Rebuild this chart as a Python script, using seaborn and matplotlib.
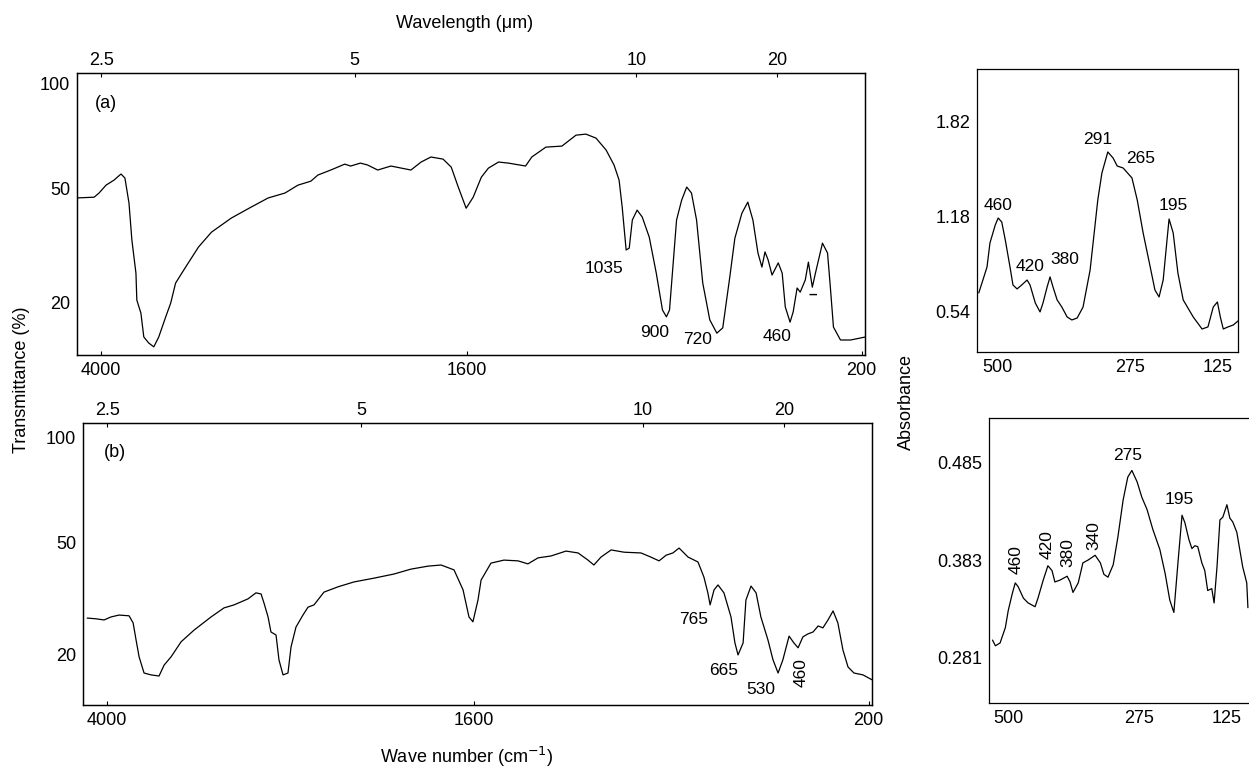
import numpy as np
import pandas as pd
import matplotlib
matplotlib.use("Agg")
import matplotlib.pyplot as plt
import seaborn as sns

# ---------------- data ----------------
# Panel (a): IR transmittance spectrum
wn_a = [4196, 4055, 4016, 3961, 3898, 3843, 3812, 3780, 3757, 3725, 3718, 3686, 3663, 3624,
        3584, 3545, 3490, 3451, 3412, 3333, 3231, 3129, 2973, 2816, 2682, 2549, 2447, 2345,
        2290, 2188, 2078, 2031, 1979, 1954, 1918, 1871, 1800, 1764, 1729, 1686, 1657, 1632,
        1604, 1579, 1550, 1525, 1489, 1454, 1393, 1371, 1321, 1264, 1214, 1179, 1143, 1107,
        1079, 1061, 1050, 1036, 1025, 1014, 997, 979, 954, 929, 907, 893, 882, 857, 839, 821,
        804, 786, 764, 739, 714, 693, 668, 650, 625, 604, 586, 568, 554, 543, 532, 518, 496,
        482, 471, 454, 443, 429, 418, 400, 389, 375, 364, 339, 321, 311, 300, 275, 239, 186]
T_a = [47.4, 47.6, 48.7, 51.4, 53.8, 56.7, 54.8, 46.1, 36.3, 27.6, 20.5, 17.1, 10.8, 9.2,
       8.2, 10.8, 16.1, 19.7, 25.0, 29.2, 34.5, 38.4, 42.1, 45.0, 47.4, 48.7, 51.4, 53.3,
       56.2, 58.6, 61.4, 60.5, 61.9, 61.0, 58.6, 60.5, 58.6, 62.4, 64.8, 63.8, 60.0, 50.5,
       44.7, 47.6, 55.2, 59.5, 62.4, 61.9, 60.5, 64.8, 69.5, 70.0, 75.2, 75.7, 73.8, 68.1,
       61.0, 53.8, 45.0, 33.7, 34.2, 41.6, 44.2, 42.4, 37.1, 27.6, 17.9, 16.1, 17.9, 41.6, 46.8, 50.5,
       48.7, 41.6, 25.0, 15.3, 11.8, 13.2, 26.6, 36.8, 43.4, 46.3, 41.6, 32.9, 29.2, 33.2, 31.1, 27.1, 30.3,
       27.6, 18.7, 14.7, 17.4, 23.7, 22.6, 25.8, 30.5, 23.9, 27.6, 35.5, 32.9, 23.9, 13.4, 10.0, 10.0, 10.8]

# Panel (b): IR transmittance spectrum
wn_b = [4157, 4087, 4024, 3969, 3906, 3827, 3795, 3772, 3748, 3709, 3654, 3591, 3551, 3496,
        3417, 3315, 3181, 3079, 3000, 2890, 2827, 2787, 2764, 2732, 2709, 2669, 2646, 2614,
        2575, 2551, 2512, 2457, 2417, 2370, 2291, 2181, 2055, 1954, 1883, 1823, 1762, 1716,
        1670, 1638, 1617, 1603, 1585, 1574, 1539, 1493, 1443, 1408, 1372, 1326, 1273, 1230,
        1195, 1174, 1149, 1113, 1067, 1007, 972, 943, 918, 894, 872, 840, 805, 784, 770, 762,
        748, 734, 713, 688, 674, 663, 645, 635, 617, 599, 582, 557, 539, 521, 504, 482, 465,
        450, 433, 415, 397, 379, 362, 344, 326, 309, 291, 273, 252, 220, 188]
T_b = [29.8, 29.6, 29.3, 30.1, 30.6, 30.4, 28.5, 24.0, 19.5, 15.2, 14.7, 14.4, 17.3, 19.5,
       23.5, 26.6, 30.1, 32.5, 33.3, 34.9, 36.5, 36.2, 33.8, 30.1, 26.1, 25.3, 18.7, 14.7,
       15.2, 22.1, 27.4, 30.6, 32.7, 33.3, 36.7, 38.1, 39.4, 40.4, 41.5, 42.8, 43.6, 43.9,
       42.6, 37.3, 30.1, 28.8, 34.6, 39.9, 44.4, 45.2, 45.0, 44.2, 45.8, 46.3, 47.6, 47.1,
       45.2, 43.9, 46.0, 47.9, 47.3, 47.1, 46.0, 45.0, 46.5, 47.1, 48.4, 46.0, 44.7, 40.7, 36.5, 33.3,
       37.3, 38.6, 36.5, 30.1, 23.2, 20.0, 23.2, 34.6, 38.3, 36.5, 30.1, 24.0, 18.7, 15.2, 18.7, 25.0, 23.2,
       21.9, 24.8, 25.6, 26.1, 27.7, 27.2, 29.3, 31.7, 28.5, 21.3, 16.8, 15.2, 14.7, 13.4]

# Far-IR absorbance (top right)
wn_c = [531, 524, 517, 512, 503, 498, 492, 486, 478, 473, 466, 458, 449, 444, 435, 427, 422,
        415, 410, 405, 398, 390, 381, 373, 364, 354, 342, 334, 329, 322, 312, 303, 296, 286,
        271, 262, 252, 240, 232, 225, 218, 211, 208, 201, 193, 184, 167, 152, 142, 133, 126,
        121, 116, 108, 99, 91]
A_c = [0.668, 0.755, 0.843, 1.005, 1.126, 1.173, 1.146, 1.025, 0.843, 0.722, 0.695, 0.722,
       0.755, 0.722, 0.600, 0.540, 0.600, 0.708, 0.776, 0.708, 0.621, 0.573, 0.506, 0.486,
       0.499, 0.573, 0.823, 1.112, 1.294, 1.476, 1.618, 1.577, 1.523, 1.510, 1.443, 1.294,
       1.072, 0.843, 0.688, 0.641, 0.755, 1.045, 1.166, 1.072, 0.802, 0.621, 0.506, 0.425,
       0.439, 0.573, 0.607, 0.506, 0.425, 0.439, 0.452, 0.479]

# Far-IR absorbance (bottom right)
wn_d = [527, 522, 514, 505, 500, 493, 488, 483, 474, 466, 454, 449, 440, 432, 425, 420, 411,
        399, 394, 389, 380, 372, 363, 351, 342, 336, 329, 320, 312, 303, 295, 288, 279, 271,
        262, 252, 240, 231, 223, 216, 209, 202, 197, 190, 185, 180, 175, 168, 163, 158, 151,
        147, 142, 137, 132, 125, 120, 115, 108, 103, 98, 91, 89]
A_d = [0.299, 0.293, 0.296, 0.312, 0.330, 0.348, 0.359, 0.355, 0.343, 0.338, 0.334, 0.343,
       0.362, 0.377, 0.372, 0.360, 0.362, 0.366, 0.360, 0.349, 0.359, 0.380, 0.383, 0.388,
       0.380, 0.368, 0.365, 0.378, 0.407, 0.446, 0.470, 0.477, 0.465, 0.449, 0.436, 0.415,
       0.394, 0.369, 0.341, 0.328, 0.380, 0.430, 0.422, 0.404, 0.395, 0.398, 0.397, 0.380,
       0.372, 0.351, 0.353, 0.338, 0.376, 0.425, 0.428, 0.441, 0.427, 0.423, 0.412, 0.394,
       0.376, 0.359, 0.333]

# tick values / labels
wn_ticks = [4000, 1600, 200]
um_ticks_pos = [4000, 2000, 1000, 500]
um_ticks_lab = ["2.5", "5", "10", "20"]
T_ticks = [100, 50, 20]
A_ticks_c = [1.82, 1.18, 0.54]
A_ticks_d = [0.485, 0.383, 0.281]
far_ticks = [500, 275, 125]

# peak labels
peaks_a = [("1035", 1114, 28.9, 0), ("900", 936, 12.1, 0), ("720", 782, 10.0, 0), ("460", 500, 10.8, 0)]
peaks_b = [("765", 819, 29.3, 0), ("665", 713, 16.0, 0), ("530", 582, 10.7, 0), ("460", 440, 15.2, 90)]
peaks_c = [("460", 498, 1.26, 0), ("420", 444, 0.843, 0), ("380", 385, 0.89, 0),
           ("291", 330, 1.705, 0), ("265", 257, 1.577, 0), ("195", 201, 1.26, 0)]
peaks_d = [("460", 486, 0.383, 90), ("420", 433, 0.399, 90), ("380", 397, 0.391, 90),
           ("340", 354, 0.409, 90), ("275", 295, 0.493, 0), ("195", 206, 0.446, 0)]

# ---------------- style ----------------
sns.set_theme(style="white")
plt.rcParams["font.family"] = ["Liberation Sans", "DejaVu Sans"]
plt.rcParams["axes.linewidth"] = 0.9
plt.rcParams["axes.edgecolor"] = "black"
plt.rcParams["text.color"] = "black"
plt.rcParams["axes.labelcolor"] = "black"
plt.rcParams["xtick.color"] = "black"
plt.rcParams["ytick.color"] = "black"

W, H = 1249, 767
fig = plt.figure(figsize=(W / 100, H / 100), dpi=100)

K = 0.45      # compression of the >2000 cm-1 region
R = 0.553     # compression of the >50 % region


def fx(w):
    w = np.asarray(w, dtype=float)
    return np.where(w <= 2000, w - 2000, (w - 2000) * K)


def ix(p):
    p = np.asarray(p, dtype=float)
    return np.where(p <= 0, 2000 + p, 2000 + p / K)


def fy(t):
    t = np.asarray(t, dtype=float)
    return np.where(t >= 50, (t - 50) * R, t - 50)


def iy(p):
    p = np.asarray(p, dtype=float)
    return np.where(p >= 0, 50 + p / R, 50 + p)


def px_rect(l, r, t, b):
    return [l / W, 1 - b / H, (r - l) / W, (b - t) / H]


FS = 13
AFS = 12.5
LW = 0.9


def style_axes(ax):
    for s in ax.spines.values():
        s.set_color("black")
        s.set_linewidth(0.9)
    ax.tick_params(axis="both", colors="black", labelsize=FS, length=3, width=0.8)
    ax.tick_params(axis="x", direction="in", pad=5)
    ax.tick_params(axis="y", direction="out", pad=2)
    ax.set_xlabel("")
    ax.set_ylabel("")


def ir_panel(rect, wn, T, ylim, tag, peaks):
    ax = fig.add_axes(rect)
    ax.set_xscale("function", functions=(fx, ix))
    ax.set_yscale("function", functions=(fy, iy))
    df = pd.DataFrame({"wn": wn, "T": T})
    sns.lineplot(data=df, x="wn", y="T", ax=ax, color="black", lw=LW, sort=False, estimator=None)
    ax.set_xlim(4190, 188)
    ax.set_ylim(*ylim)
    ax.set_xticks(wn_ticks)
    ax.set_xticklabels([str(v) for v in wn_ticks])
    ax.set_xticks([], minor=True)
    ax.set_yticks(T_ticks)
    ax.set_yticklabels([str(v) for v in T_ticks])
    ax.set_yticks([75, 35], minor=True)
    ax.tick_params(axis="y", which="minor", length=2, direction="out")
    style_axes(ax)
    ax2 = ax.twiny()
    ax2.set_xscale("function", functions=(fx, ix))
    ax2.set_xlim(4190, 188)
    ax2.set_xticks(um_ticks_pos)
    ax2.set_xticklabels(um_ticks_lab)
    ax2.set_xticks([], minor=True)
    ax2.tick_params(axis="x", colors="black", labelsize=FS, length=3, width=0.8,
                    direction="in", pad=3)
    ax.text(tag[1], tag[2], tag[0], fontsize=FS, ha="center", va="center")
    for lab, x, y, rot in peaks:
        ax.text(x, y, lab, fontsize=AFS, ha="center", va="center", rotation=rot)
    return ax


axa = ir_panel(px_rect(77, 865, 73, 355), wn_a, T_a, (6.05, 104.8), ("(a)", 3961, 90.5), peaks_a)
axa.text(375, 21.8, "\u2013", fontsize=11, fontweight="bold", ha="center", va="center")
axb = ir_panel(px_rect(83, 872, 423, 705), wn_b, T_b, (6.7, 107.2), ("(b)", 3937, 92.8), peaks_b)


def far_panel(rect, wn, A, xlim, ylim, yticks, peaks):
    ax = fig.add_axes(rect)
    df = pd.DataFrame({"wn": wn, "A": A})
    sns.lineplot(data=df, x="wn", y="A", ax=ax, color="black", lw=LW, sort=False, estimator=None)
    ax.set_xlim(*xlim)
    ax.set_ylim(*ylim)
    ax.set_xticks(far_ticks)
    ax.set_xticklabels([str(v) for v in far_ticks])
    ax.set_yticks(yticks)
    ax.set_yticklabels([f"{v:g}" for v in yticks])
    style_axes(ax)
    for lab, x, y, rot in peaks:
        ax.text(x, y, lab, fontsize=AFS, ha="center", va="center", rotation=rot)
    return ax


axc = far_panel(px_rect(977, 1238, 69, 352), wn_c, A_c, (534, 91), (0.270, 2.177), A_ticks_c, peaks_c)
axd = far_panel(px_rect(989, 1252, 418, 703), wn_d, A_d, (533, 82), (0.233, 0.532), A_ticks_d, peaks_d)

# axis titles
fig.text(465 / W, 1 - 23 / H, "Wavelength (\u03bcm)", fontsize=FS, ha="center", va="center")
fig.text(467 / W, 1 - 757 / H, "Wave number (cm$^{-1}$)", fontsize=FS, ha="center", va="center")
fig.text(22 / W, 1 - 380 / H, "Transmittance (%)", fontsize=FS, ha="center", va="center", rotation=90)
fig.text(906 / W, 1 - 402 / H, "Absorbance", fontsize=FS, ha="center", va="center", rotation=90)

fig.savefig("out.png", dpi=100, facecolor="white")
